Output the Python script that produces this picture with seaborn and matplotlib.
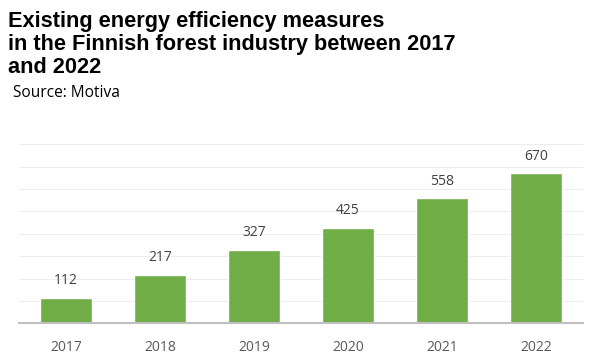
"""Bar chart: existing energy efficiency measures in the Finnish forest industry."""
import matplotlib
import matplotlib.pyplot as plt
import pandas as pd
import seaborn as sns

matplotlib.use('Agg')

# Data
years = ["2017", "2018", "2019", "2020", "2021", "2022"]
measures = [112, 217, 327, 425, 558, 670]

title = ("Existing energy efficiency measures\n"
         "in the Finnish forest industry between 2017\n"
         "and 2022")
source = "Source: Motiva"

df = pd.DataFrame({"year": years, "measures": measures})

sns.set_theme(style="whitegrid")
plt.rcParams['font.family'] = ['Open Sans', 'DejaVu Sans']

fig = plt.figure(figsize=(5.93, 3.58), dpi=100)
ax = fig.add_axes([0.032, 0.097, 0.951, 0.500])

sns.barplot(data=df, x="year", y="measures", color="#70AD47",
            width=0.55, saturation=1, ax=ax)

ax.set_ylim(0, 800)
ax.set_xlim(-0.5, len(years) - 0.5)
ax.set_yticks(range(0, 801, 100))
ax.set_yticklabels([])
ax.tick_params(axis='y', length=0)
ax.tick_params(axis='x', length=0, pad=12, labelsize=10, labelcolor="#595959")
ax.set_xlabel("")
ax.set_ylabel("")

ax.grid(axis='y', color="#EDEDED", linewidth=0.8)
ax.grid(axis='x', visible=False)
ax.set_axisbelow(True)

for side in ["top", "right", "left"]:
    ax.spines[side].set_visible(False)
ax.spines["bottom"].set_color("#BFBFBF")
ax.spines["bottom"].set_linewidth(1.5)

ax.bar_label(ax.containers[0], padding=7, fontsize=10, color="#404040")

fig.text(0.013, 0.968, title, ha='left', va='top', fontsize=15.7,
         fontweight='bold', family=['Liberation Sans', 'DejaVu Sans'],
         linespacing=1.12, color="black")
fig.text(0.022, 0.728, source, ha='left', va='baseline', fontsize=11.2,
         color="black")

fig.savefig("out.png", dpi=100)
plt.close(fig)
